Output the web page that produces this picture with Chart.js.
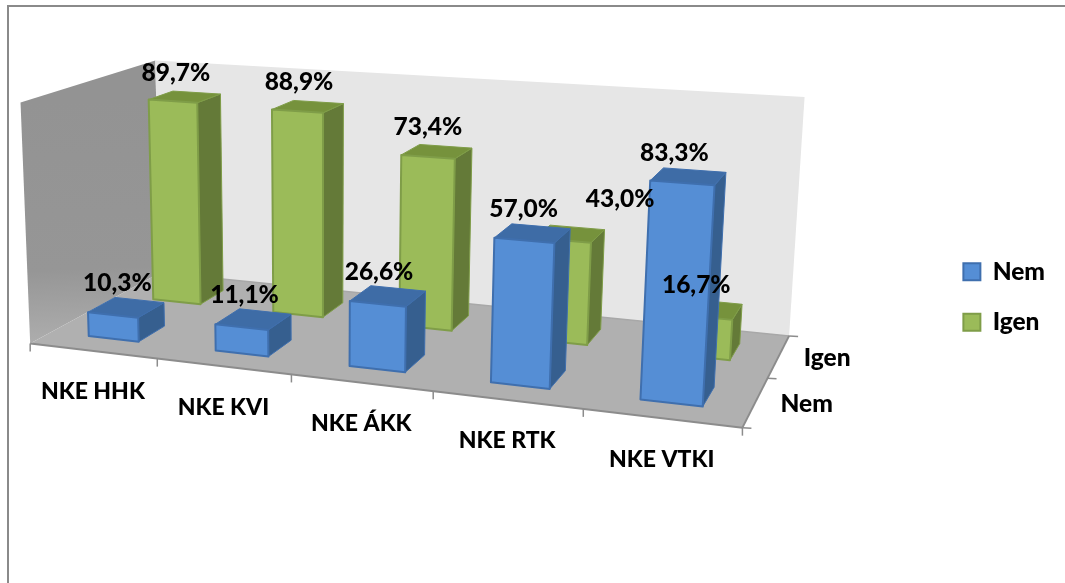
<!DOCTYPE html>
<html>
<head>
<meta charset="utf-8">
<script src="https://cdn.jsdelivr.net/npm/chart.js@4"></script>
<style>html,body{margin:0;padding:0;background:#fff;overflow:hidden}canvas{display:block}</style>
</head>
<body>
<canvas id="c" width="1065" height="583"></canvas>
<script>
const categories = ['NKE HHK', 'NKE KVI', 'NKE ÁKK', 'NKE RTK', 'NKE VTKI'];
const seriesNem = [10.3, 11.1, 26.6, 57.0, 83.3];
const seriesIgen = [89.7, 88.9, 73.4, 43.0, 16.7];

// Perspective calibration: cube corner (u,v,w) -> screen position
const CALIB = [
  [0,0,0, 33,342],[1,0,0, 742,430],[1,1,0, 790,333],[0,1,0, 157,275],
  [0,0,1, 18,102],[0,1,1, 158,60],[1,1,1, 804,98]
];
function solveProjection(pts){
  const n=11, A=Array.from({length:n},()=>new Array(n+1).fill(0));
  const add=(row,rhs)=>{for(let i=0;i<n;i++){for(let j=0;j<n;j++)A[i][j]+=row[i]*row[j];A[i][n]+=row[i]*rhs;}};
  for(const [u,v,w,x,y] of pts){
    add([u,v,w,1,0,0,0,0,-x*u,-x*v,-x*w],x);
    add([0,0,0,0,u,v,w,1,-y*u,-y*v,-y*w],y);
  }
  for(let i=0;i<n;i++){
    let p=i;for(let r=i+1;r<n;r++)if(Math.abs(A[r][i])>Math.abs(A[p][i]))p=r;
    [A[i],A[p]]=[A[p],A[i]];
    for(let r=0;r<n;r++){if(r===i)continue;const f=A[r][i]/A[i][i];for(let c=i;c<=n;c++)A[r][c]-=f*A[i][c];}
  }
  return A.map((r,i)=>r[n]/r[i]);
}
const M=solveProjection(CALIB);
function P(u,v,w){
  const d=M[8]*u+M[9]*v+M[10]*w+1;
  return [(M[0]*u+M[1]*v+M[2]*w+M[3])/d,(M[4]*u+M[5]*v+M[6]*w+M[7])/d];
}
function poly(ctx,pts,fill,stroke,lw){
  ctx.beginPath();pts.forEach((p,i)=>i?ctx.lineTo(p[0],p[1]):ctx.moveTo(p[0],p[1]));ctx.closePath();
  if(fill){ctx.fillStyle=fill;ctx.fill();}
  if(stroke){ctx.strokeStyle=stroke;ctx.lineWidth=lw||1;ctx.lineJoin='round';ctx.stroke();}
}
function line(ctx,a,b,c,lw){ctx.beginPath();ctx.moveTo(a[0],a[1]);ctx.lineTo(b[0],b[1]);ctx.strokeStyle=c;ctx.lineWidth=lw;ctx.stroke();}

// Depth rows: v range occupied by each series (0 = front)
const rowDepth=[[0.15,0.35],[0.65,0.85]];
const shades=[
  {front:'#558ed5',edge:'#3f6fae',top:'#3e6ca6',side:'#365f8f'},
  {front:'#9bbb59',edge:'#7f9d48',top:'#76923c',side:'#647a38'}
];
const AXIS_FONT='900 23px Lato';
const VALUE_FONT='900 24.5px Lato';

// Bars are the library's own elements, drawn as projected boxes
const flatDraw=Chart.BarElement.prototype.draw;
Chart.BarElement.prototype.draw=function(ctx){
  if(this._row===undefined){return flatDraw.call(this,ctx);}
  const sx=this._sx, sy=this._sy;
  const u0=(this.x-this.width/2-sx.left)/sx.width, u1=(this.x+this.width/2-sx.left)/sx.width;
  const w=(sy.bottom-this.y)/sy.height;
  const [v0,v1]=rowDepth[this._row], s=shades[this._row];
  ctx.save();
  poly(ctx,[P(u1,v0,0),P(u1,v1,0),P(u1,v1,w),P(u1,v0,w)],s.side,s.edge,1);
  poly(ctx,[P(u0,v0,w),P(u1,v0,w),P(u1,v1,w),P(u0,v1,w)],s.top,s.edge,1);
  poly(ctx,[P(u0,v0,0),P(u1,v0,0),P(u1,v0,w),P(u0,v0,w)],s.front,s.edge,2);
  ctx.restore();
};

const stage={
  id:'stage',
  beforeDatasetsDraw(chart){
    const ctx=chart.ctx;
    chart.data.datasets.forEach((d,di)=>{
      chart.getDatasetMeta(di).data.forEach(el=>{el._row=di;el._sx=chart.scales.x;el._sy=chart.scales.y;});
    });
    ctx.save();
    // frame
    ctx.strokeStyle='#8a8a8a';ctx.lineWidth=2;
    ctx.beginPath();ctx.moveTo(8,583);ctx.lineTo(8,6);ctx.lineTo(1065,6);ctx.stroke();
    // walls & floor
    const a=P(0,0,1),b=P(0,0,0);
    const g=ctx.createLinearGradient(a[0],a[1],b[0],b[1]);
    g.addColorStop(0,'#939393');g.addColorStop(0.7,'#969696');g.addColorStop(1,'#adadad');
    poly(ctx,[P(0,0,0),P(0,1,0),P(0,1,1),P(0,0,1)],g);
    poly(ctx,[P(0,1,0),P(1,1,0),P(1,1,1),P(0,1,1)],'#e6e6e6');
    poly(ctx,[P(0,0,0),P(1,0,0),P(1,1,0),P(0,1,0)],'#b0b0b0');
    // floor edges
    line(ctx,P(0,1,0),P(1,1,0),'#a8a8a8',1.5);
    line(ctx,P(0,0,0),P(1,0,0),'#8c8c8c',2);
    line(ctx,P(1,0,0),P(1,1,0),'#8c8c8c',2);
    // category ticks
    const sx=chart.scales.x, n=categories.length;
    for(let i=0;i<=n;i++){
      const p=P(i/n,0,0);
      line(ctx,p,[p[0],p[1]+8],'#8c8c8c',1.5);
    }
    // depth ticks
    [0,0.5,1].forEach(v=>{const p=P(1,v,0);line(ctx,p,[p[0]+9,p[1]+0.5],'#8c8c8c',1.5);});
    // category labels
    ctx.fillStyle='#000';ctx.font=AXIS_FONT;ctx.textAlign='center';ctx.textBaseline='middle';
    sx.ticks.forEach((t,i)=>{
      const u=(sx.getPixelForTick(i)-sx.left)/sx.width;
      const p=P(u,0,0);
      ctx.fillText(sx.getLabelForValue(t.value),p[0],p[1]+41);
    });
    // depth labels
    ctx.font=VALUE_FONT;ctx.textAlign='left';
    chart.data.datasets.forEach((d,di)=>{
      const [v0,v1]=rowDepth[di];
      const p=P(1,(v0+v1)/2,0);
      ctx.fillText(d.label,p[0]+25,p[1]+(di?2:2));
    });
    ctx.restore();
  },
  afterDatasetsDraw(chart){
    const ctx=chart.ctx, sx=chart.scales.x, sy=chart.scales.y;
    ctx.save();
    ctx.fillStyle='#000';ctx.font=VALUE_FONT;ctx.textAlign='center';ctx.textBaseline='middle';
    chart.data.datasets.forEach((d,di)=>{
      const [v0,v1]=rowDepth[di];
      chart.getDatasetMeta(di).data.forEach((el,i)=>{
        const u=(el.x-sx.left)/sx.width, w=(sy.bottom-el.y)/sy.height;
        const p=P(u,(v0+v1)/2,w);
        const val=d.data[i];
        let nudge=[-9,-24];
        if(di===1&&i===3)nudge=[50,-35];
        if(di===0&&i===4)nudge=[-14,-23];
        if(di===1&&i===4)nudge=[-12,-24];
        ctx.fillText(val.toFixed(1).replace('.',',')+'%',p[0]+nudge[0],p[1]+nudge[1]);
      });
    });
    ctx.restore();
  }
};

new Chart(document.getElementById('c'),{
  type:'bar',
  data:{
    labels:categories,
    datasets:[
      {label:'Nem',data:seriesNem,backgroundColor:'#558ed5',borderColor:'#3f6fae',borderWidth:2},
      {label:'Igen',data:seriesIgen,backgroundColor:'#9bbb59',borderColor:'#7f9d48',borderWidth:2}
    ]
  },
  options:{
    responsive:false,
    animation:false,
    events:[],
    layout:{padding:{top:11,right:10,left:10,bottom:0}},
    datasets:{bar:{grouped:false,categoryPercentage:1,barPercentage:0.4}},
    scales:{
      x:{display:false,type:'category'},
      y:{display:false,min:0,max:100}
    },
    plugins:{
      title:{display:false},
      tooltip:{enabled:false},
      legend:{
        display:true,position:'right',align:'center',
        labels:{color:'#000',font:{family:'Lato',weight:'900',size:24.5},boxWidth:17,boxHeight:17,padding:26}
      }
    }
  },
  plugins:[stage]
});
</script>
</body>
</html>
